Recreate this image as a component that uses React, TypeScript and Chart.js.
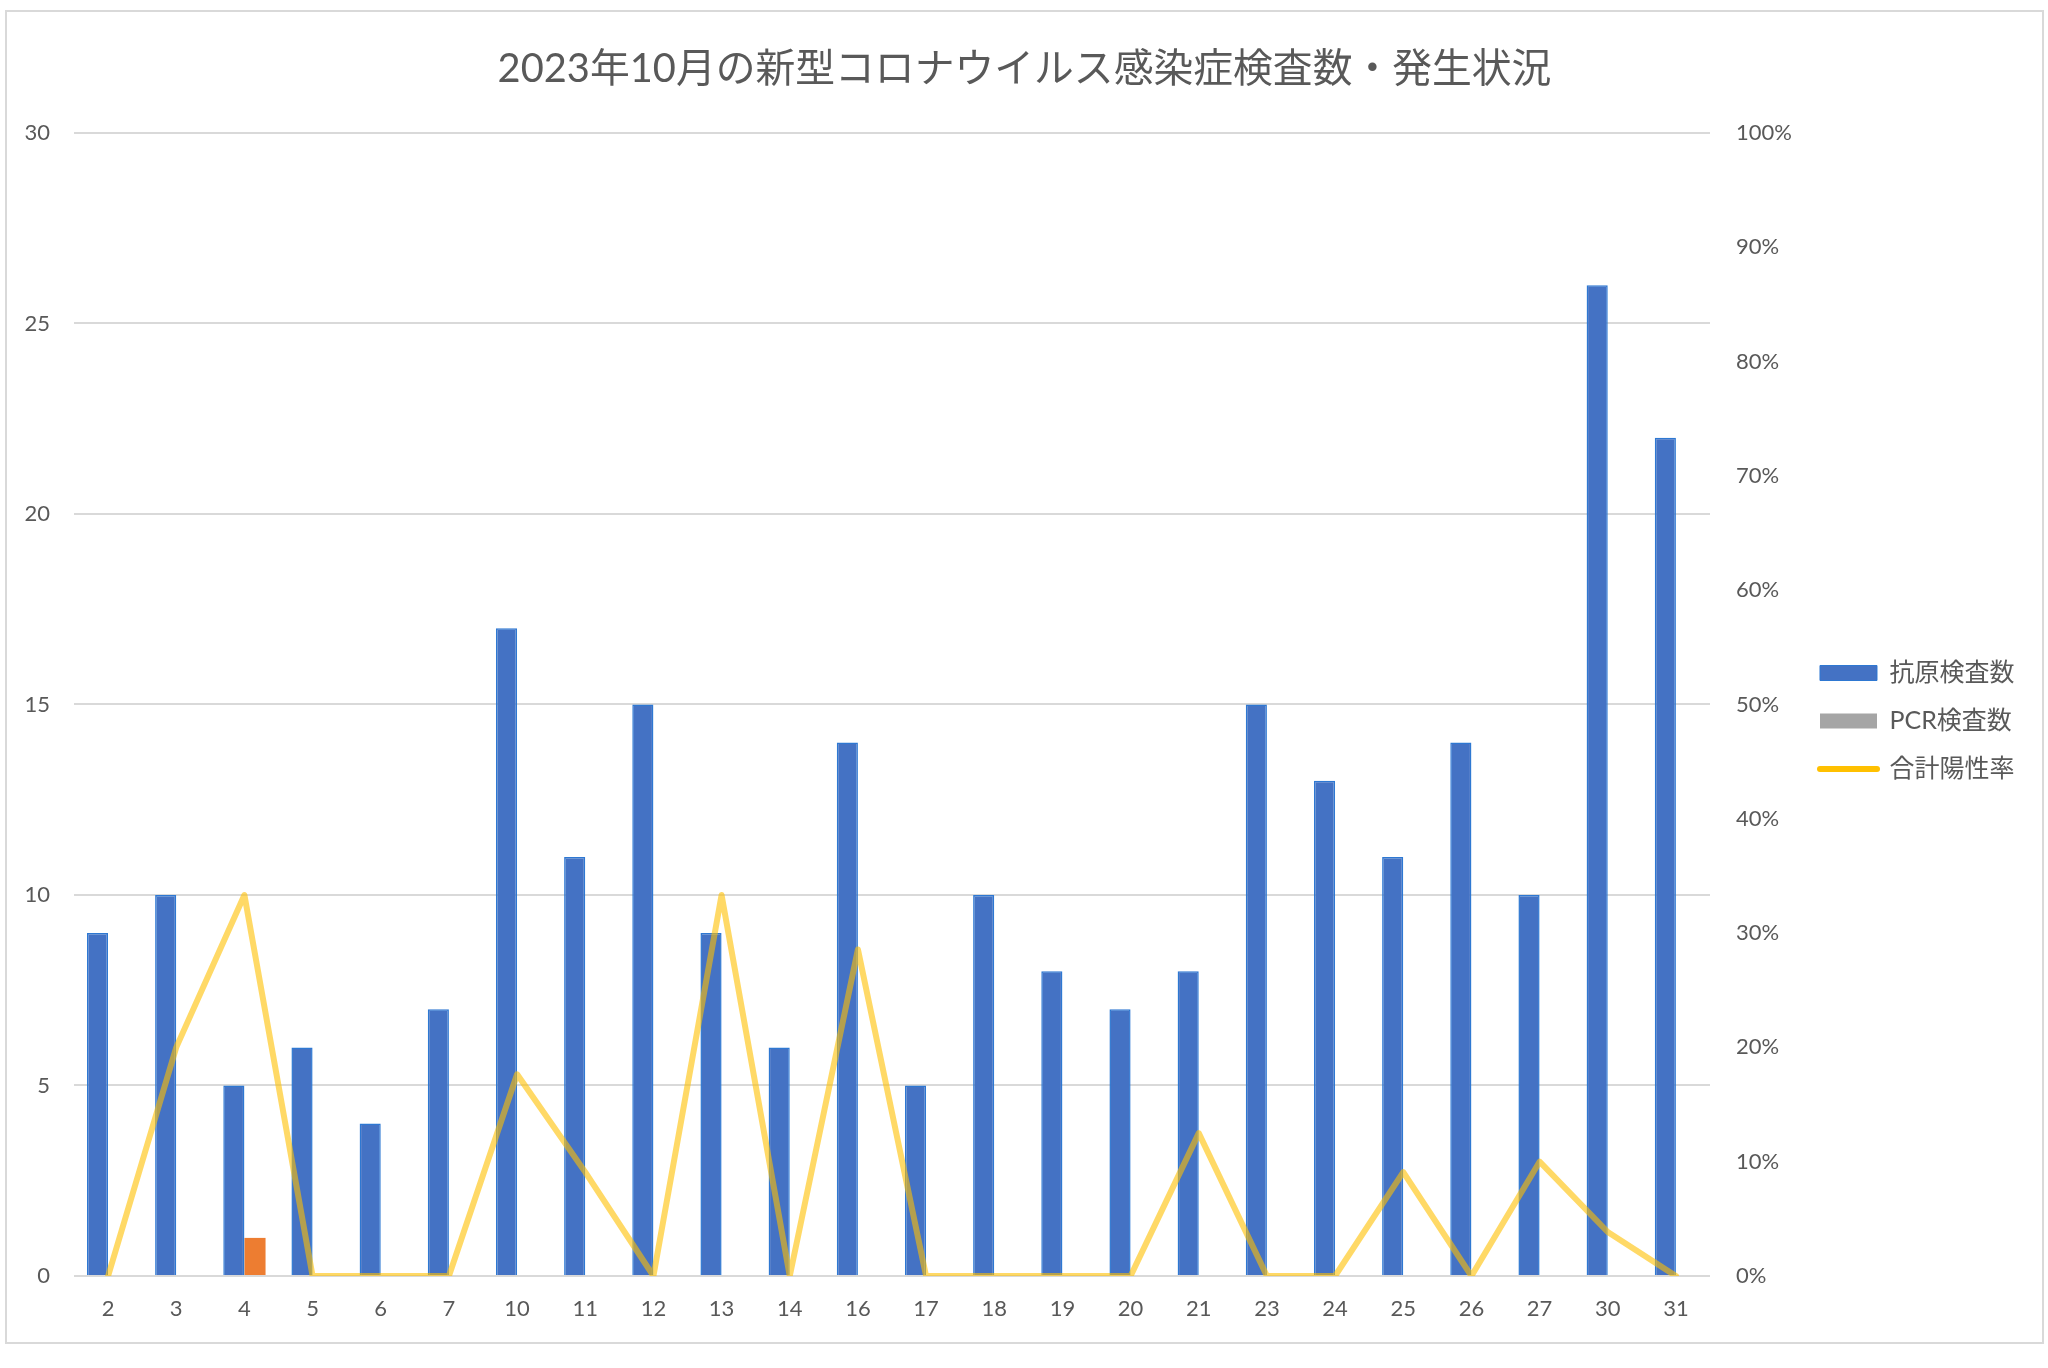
import React, { useEffect, useRef } from "react";
import { Chart, registerables } from "chart.js";

Chart.register(...registerables);

const TITLE = "2023年10月の新型コロナウイルス感染症検査数・発生状況";
const DAYS = ["2", "3", "4", "5", "6", "7", "10", "11", "12", "13", "14", "16", "17", "18", "19", "20", "21", "23", "24", "25", "26", "27", "30", "31"];
const ANTIGEN = [9, 10, 5, 6, 4, 7, 17, 11, 15, 9, 6, 14, 5, 10, 8, 7, 8, 15, 13, 11, 14, 10, 26, 22];
const PCR = [0, 0, 1, 0, 0, 0, 0, 0, 0, 0, 0, 0, 0, 0, 0, 0, 0, 0, 0, 0, 0, 0, 0, 0];
const POSITIVE_RATE = [0, 0.2, 0.3333, 0, 0, 0, 0.1765, 0.0909, 0, 0.3333, 0, 0.2857, 0, 0, 0, 0, 0.125, 0, 0, 0.0909, 0, 0.1, 0.0385, 0];
const SERIES_NAMES = ["抗原検査数", "PCR検査数", "合計陽性率"];
const LEFT_TICKS = [0, 5, 10, 15, 20, 25, 30];

const FONT = "Lato, 'Noto Sans CJK JP', sans-serif";
const TEXT = "#595959";
const BLUE = "#4472C4";
const BLUE_EDGE = "#2E78D2";
const GRAY = "#A5A5A5";
const ORANGE = "#ED7D31";
const YELLOW = "#FFC000";
const YELLOW_LINE = "rgba(255,192,0,0.6)";

export default function App() {
  const canvasRef = useRef<HTMLCanvasElement | null>(null);

  useEffect(() => {
    const canvas = canvasRef.current;
    if (!canvas) return;
    const chart = new Chart(canvas, {
      type: "bar",
      data: {
        labels: DAYS,
        datasets: [
          {
            type: "bar",
            label: SERIES_NAMES[0],
            data: ANTIGEN,
            backgroundColor: BLUE,
            borderColor: BLUE_EDGE,
            borderWidth: 1.5,
            yAxisID: "y",
            order: 2,
            categoryPercentage: 0.62,
            barPercentage: 1.0,
          },
          {
            type: "bar",
            label: SERIES_NAMES[1],
            data: PCR,
            backgroundColor: (ctx: any) => (ctx.dataIndex === 2 ? ORANGE : GRAY),
            borderWidth: 0,
            yAxisID: "y",
            order: 3,
            categoryPercentage: 0.62,
            barPercentage: 1.0,
          },
          {
            type: "line",
            label: SERIES_NAMES[2],
            data: POSITIVE_RATE,
            borderColor: YELLOW_LINE,
            backgroundColor: YELLOW_LINE,
            borderWidth: 6,
            pointRadius: 0,
            pointHoverRadius: 0,
            tension: 0,
            borderJoinStyle: "round",
            borderCapStyle: "round",
            yAxisID: "y1",
            order: 0,
          } as any,
        ],
      },
      options: {
        animation: false,
        responsive: true,
        maintainAspectRatio: false,
        layout: { padding: { left: 17.5, right: 17.5, top: 0, bottom: 0 } },
        plugins: {
          tooltip: { enabled: false },
          title: {
            display: true,
            text: TITLE,
            color: TEXT,
            font: { family: FONT, size: 39.8, weight: "normal" as any, lineHeight: 1.2 },
            padding: { top: 33, bottom: 40.2 },
          },
          legend: {
            display: true,
            position: "right",
            align: "center",
            title: {
              display: true,
              text: " ",
              padding: 36.8,
              font: { family: FONT, size: 12, lineHeight: 1.2 },
            },
            labels: {
              usePointStyle: true,
              pointStyleWidth: 57,
              boxHeight: 15,
              padding: 23,
              color: TEXT,
              font: { family: FONT, size: 25 },
              generateLabels: () => [
                { text: SERIES_NAMES[0], fillStyle: BLUE, strokeStyle: BLUE_EDGE, lineWidth: 1, pointStyle: "rect", datasetIndex: 0, hidden: false, fontColor: TEXT } as any,
                { text: SERIES_NAMES[1], fillStyle: GRAY, strokeStyle: GRAY, lineWidth: 0, pointStyle: "rect", datasetIndex: 1, hidden: false, fontColor: TEXT } as any,
                { text: SERIES_NAMES[2], fillStyle: YELLOW, strokeStyle: YELLOW, lineWidth: 6, lineCap: "round", pointStyle: "line", datasetIndex: 2, hidden: false, fontColor: TEXT } as any,
              ],
            },
          },
        },
        scales: {
          x: {
            grid: { display: false, drawTicks: false },
            border: { display: false },
            afterFit: (s: any) => {
              s.height = 66;
            },
            ticks: { color: TEXT, font: { family: FONT, size: 22 }, padding: 20, maxRotation: 0, autoSkip: false },
          },
          y: {
            position: "left",
            min: LEFT_TICKS[0],
            max: LEFT_TICKS[LEFT_TICKS.length - 1],
            grid: { color: "#D9D9D9", lineWidth: 2, drawTicks: false },
            border: { display: false },
            afterBuildTicks: (s: any) => {
              s.ticks = LEFT_TICKS.map((v) => ({ value: v }));
            },
            afterFit: (s: any) => {
              s.width = 49.5;
            },
            ticks: { color: TEXT, font: { family: FONT, size: 22 }, padding: 24 },
          },
          y1: {
            position: "right",
            min: 0,
            max: 1,
            grid: { display: false, drawTicks: false },
            border: { display: false },
            afterFit: (s: any) => {
              s.width = 87;
            },
            ticks: {
              stepSize: 0.1,
              color: TEXT,
              font: { family: FONT, size: 22 },
              padding: 26,
              callback: (v: any) => `${Math.round(Number(v) * 100)}%`,
            },
          },
        },
      },
    });
    return () => chart.destroy();
  }, []);

  return (
    <div style={{ position: "absolute", left: 0, top: 0, width: 2048, height: 1368, background: "#FFFFFF" }}>
      <div
        style={{
          position: "absolute",
          left: 5,
          top: 10,
          width: 2039,
          height: 1334,
          border: "2px solid #D9D9D9",
          boxSizing: "border-box",
        }}
      />
      <div style={{ position: "absolute", left: 7, top: 12, width: 2035, height: 1330 }}>
        <canvas ref={canvasRef} />
      </div>
    </div>
  );
}
